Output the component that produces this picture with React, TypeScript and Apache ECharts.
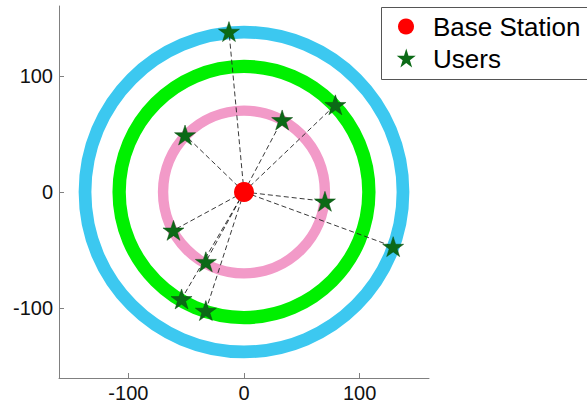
import React, { useEffect, useRef } from "react";
import * as echarts from "echarts";

// ---- data ----
const xTicks = [-100, 0, 100];
const yTicks = [-100, 0, 100];
const baseStation = [[0, 0]];
const users = [
  [-13, 138],
  [79, 75],
  [33, 62],
  [-51, 49],
  [70, -8],
  [-61, -33],
  [-33, -60],
  [129, -47],
  [-54, -92],
  [-33, -102],
];
// ring radius, ring thickness (data units)
const ringRadii = [70, 108, 137.5];
const ringWidths = [9, 11.5, 11];
const ringColors = ["#F29AC8", "#00F000", "#3CC8F0"];
const legendNames = ["Base Station", "Users"];

const STAR_D =
  "M10 0 L12.245 6.91 L19.51 6.91 L13.63 11.18 L15.88 18.09 L10 13.82 L4.12 18.09 L6.37 11.18 L0.49 6.91 L7.755 6.91 Z";
const FONT = '"Liberation Sans", Arial, sans-serif';
const STAR_COLOR = "#0B6A16";

let registered = false;

export default function App() {
  const ref = useRef<HTMLDivElement>(null);
  useEffect(() => {
    if (!registered) {
      echarts.graphic.registerShape("legendStar", echarts.graphic.extendPath(STAR_D, {}) as any);
      registered = true;
    }
    const chart = echarts.init(ref.current!, null, { renderer: "svg" });
    const ringData = ringRadii.map((r, i) => [r, ringWidths[i]]);
    const option: any = {
      animation: false,
      backgroundColor: "#fff",
      textStyle: { fontFamily: FONT },
      grid: { left: 59, top: 6, width: 370, height: 372, containLabel: false },
      xAxis: {
        type: "value",
        min: -160,
        max: 160,
        splitLine: { show: false },
        axisLine: { onZero: false, lineStyle: { color: "#808080", width: 1 } },
        axisTick: { inside: true, length: 5, customValues: xTicks, lineStyle: { color: "#808080" } },
        axisLabel: { customValues: xTicks, color: "#111", fontSize: 20, margin: 5, fontFamily: FONT },
      },
      yAxis: {
        type: "value",
        min: -160,
        max: 160,
        splitLine: { show: false },
        axisLine: { onZero: false, lineStyle: { color: "#808080", width: 1 } },
        axisTick: { inside: true, length: 5, customValues: yTicks, lineStyle: { color: "#808080" } },
        axisLabel: { customValues: yTicks, color: "#111", fontSize: 20, margin: 6, fontFamily: FONT },
      },
      series: [
        {
          type: "custom",
          name: "rings",
          data: ringData,
          z: 1,
          silent: true,
          renderItem: (params: any, api: any) => {
            const r = api.value(0);
            const t = api.value(1);
            const c = api.coord([0, 0]);
            const s = api.size([r, r]);
            const lw = api.size([t, t]);
            return {
              type: "ellipse",
              shape: { cx: c[0], cy: c[1], rx: s[0], ry: s[1] },
              style: { fill: "none", stroke: ringColors[params.dataIndex], lineWidth: (lw[0] + lw[1]) / 2 },
            };
          },
        },
        {
          type: "custom",
          name: "links",
          data: users,
          z: 2,
          silent: true,
          renderItem: (params: any, api: any) => {
            const p0 = api.coord(baseStation[0]);
            const p1 = api.coord([api.value(0), api.value(1)]);
            return {
              type: "line",
              shape: { x1: p0[0], y1: p0[1], x2: p1[0], y2: p1[1] },
              style: { stroke: "#222", lineWidth: 0.9, lineDash: [5, 3] },
            };
          },
        },
        {
          type: "scatter",
          name: legendNames[0],
          data: baseStation,
          z: 3,
          symbol: "circle",
          symbolSize: 20,
          itemStyle: { color: "#FF0000", opacity: 1 },
        },
        {
          type: "scatter",
          name: legendNames[1],
          data: users,
          z: 4,
          symbol: "path://" + STAR_D,
          symbolKeepAspect: true,
          symbolSize: 21,
          itemStyle: { color: STAR_COLOR, opacity: 1, borderColor: "#0a4d10", borderWidth: 0.5 },
        },
      ],
      graphic: [
        {
          type: "rect",
          left: 381,
          top: 7,
          shape: { width: 230, height: 72 },
          style: { fill: "#fff", stroke: "#555", lineWidth: 1 },
          z: 10,
        },
        {
          type: "circle",
          shape: { cx: 406, cy: 26.5, r: 8 },
          style: { fill: "#FF0000" },
          z: 11,
        },
        {
          type: "legendStar",
          x: 406 - 9.75,
          y: 58 - 9.5,
          scaleX: 1.0,
          scaleY: 1.05,
          style: { fill: STAR_COLOR },
          z: 11,
        },
        {
          type: "text",
          x: 433,
          y: 26.5,
          style: { text: legendNames[0], font: `26px ${FONT}`, fill: "#000", verticalAlign: "middle" },
          z: 11,
        },
        {
          type: "text",
          x: 433,
          y: 59,
          style: { text: legendNames[1], font: `26px ${FONT}`, fill: "#000", verticalAlign: "middle" },
          z: 11,
        },
      ],
    };
    chart.setOption(option);
    return () => chart.dispose();
  }, []);
  return (
    <div
      ref={ref}
      style={{ position: "fixed", left: 0, top: 0, width: 587, height: 404, background: "#fff" }}
    />
  );
}
